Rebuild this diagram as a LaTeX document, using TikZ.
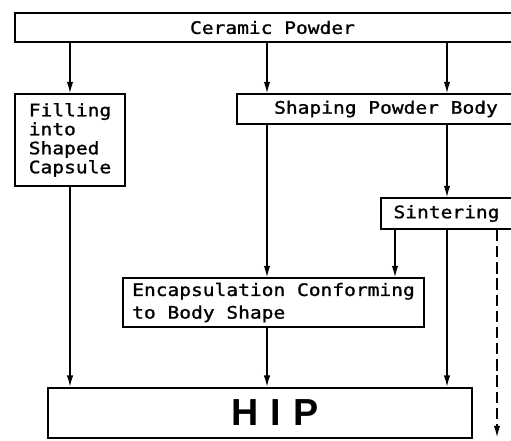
\documentclass[tikz,border=0pt]{standalone}
\usepackage{fontspec}
\newfontfamily\boxfont[FakeStretch=1.14, FakeBold=1.2]{DejaVu Sans Mono}
\newfontfamily\hipfont[LetterSpace=33]{Liberation Sans}
\usetikzlibrary{arrows.meta}
\tikzset{
	stagebox/.style={draw, rectangle, line width=1.3pt, inner sep=0pt,
		font=\boxfont\fontsize{12.2}{13.5}\selectfont},
	flow/.style={-{Latex[length=8pt,width=4.6pt]}, line width=0.9pt}
}

\begin{document}
\begin{tikzpicture}[x=0.025cm, y=-0.025cm]
	\clip (0,0) rectangle (511,440);
	% Boxes
	\node[stagebox, minimum width=12.875cm, minimum height=0.725cm] (ceramic) at (272.5,27.5) {Ceramic Powder};
	\node[stagebox, minimum width=2.75cm, minimum height=2.3cm, align=left] (filling) at (70,140) {Filling\\into\\Shaped\\Capsule};
	\node[stagebox, minimum width=7.45cm, minimum height=0.75cm] (shaping) at (386,109) {Shaping Powder Body};
	\node[stagebox, minimum width=3.275cm, minimum height=0.775cm] (sinter) at (446.5,213.5) {Sintering};
	\node[stagebox, font=\boxfont\fontsize{12.2}{16.1}\selectfont, minimum width=7.525cm, minimum height=1.225cm, align=left] (encap) at (273.5,302.5) {Encapsulation Conforming\\to Body Shape};
	\node[draw, rectangle, line width=1.9pt, minimum width=10.6cm, minimum height=1.25cm, font=\hipfont\bfseries\fontsize{26.8}{30}\selectfont] (hip) at (260,413) {\hspace*{0.8em}HIP};
	% Columns
	\coordinate (colB) at (267,0);
	\coordinate (colC) at (447,0);
	\coordinate (colD) at (395,0);
	\coordinate (dashend) at (497,437);
	% Arrows
	\draw[flow] (ceramic.south -| filling.north) -- (filling.north);
	\draw[flow] (ceramic.south -| colB) -- (shaping.north -| colB);
	\draw[flow] (ceramic.south -| colC) -- (shaping.north -| colC);
	\draw[flow] (shaping.south -| colB) -- (encap.north -| colB);
	\draw[flow] (shaping.south -| colC) -- (sinter.north -| colC);
	\draw[flow] (sinter.south -| colD) -- (encap.north -| colD);
	\draw[flow] (sinter.south -| colC) -- (hip.north -| colC);
	\draw[flow, dash pattern=on 8pt off 3.5pt] (sinter.south -| dashend) -- (dashend);
	\draw[flow] (filling.south) -- (hip.north -| filling.south);
	\draw[flow] (encap.south -| colB) -- (hip.north -| colB);
\end{tikzpicture}
\end{document}
